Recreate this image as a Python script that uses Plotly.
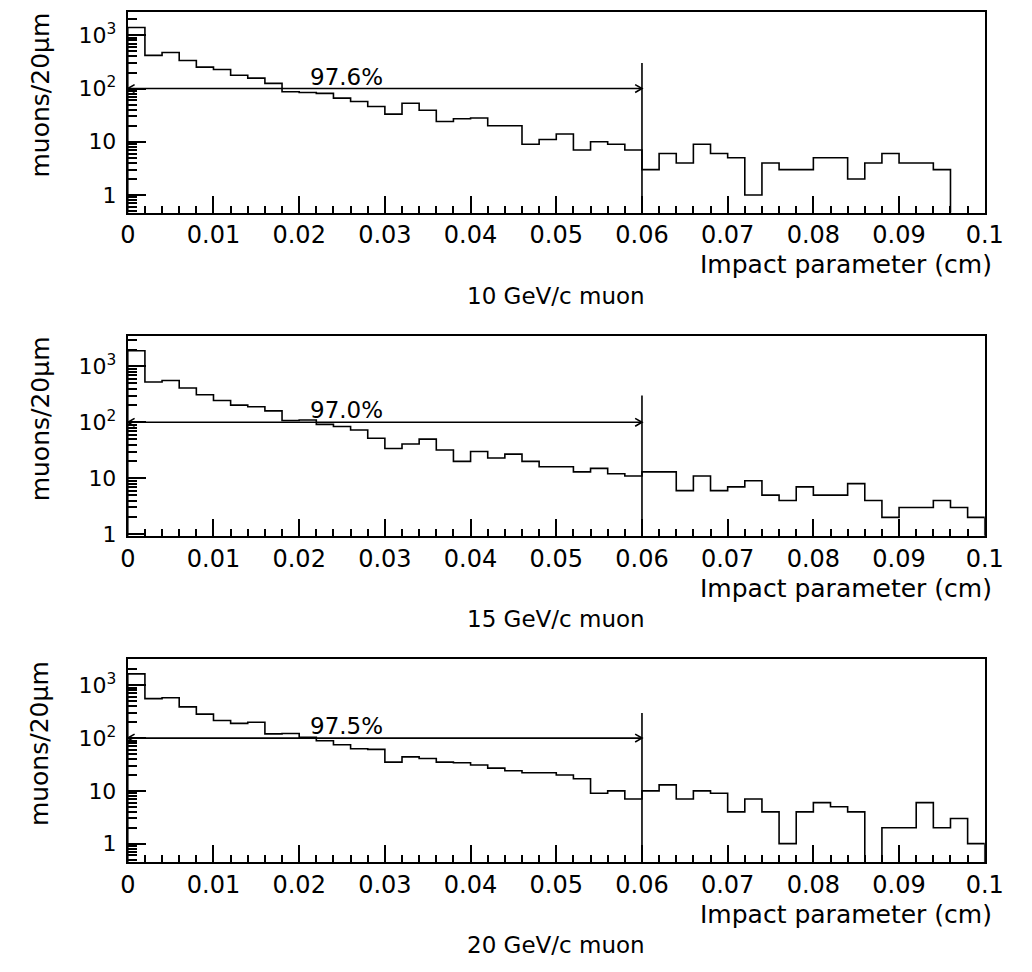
import math
import plotly.graph_objects as go

# Impact-parameter distributions, 20 um bins from 0 to 0.1 cm
bin_width = 0.002
x_max = 0.1

counts_10gev = [1400, 420, 475, 335, 252, 228, 177, 157, 125, 87,
                84, 81, 66, 57, 46, 33, 53, 39, 24, 27,
                28, 20, 20, 9, 11, 14, 7, 10, 9, 7,
                3, 6, 4, 9, 6, 5, 1, 4, 3, 3,
                5, 5, 2, 4, 6, 4, 4, 3, 0, 0]

counts_15gev = [1900, 525, 560, 410, 310, 245, 203, 190, 160, 108,
                110, 92, 84, 73, 52, 34, 41, 50, 32, 20,
                30, 23, 27, 20, 16, 16, 13, 15, 12, 11,
                13, 13, 6, 11, 6, 7, 9, 5, 4, 7,
                5, 5, 8, 4, 2, 3, 3, 4, 3, 2]

counts_20gev = [1650, 560, 580, 390, 285, 215, 190, 200, 120, 122,
                103, 89, 75, 63, 61, 35, 44, 41, 35, 34,
                31, 27, 24, 22, 22, 20, 17, 9, 10, 7,
                10, 13, 7, 10, 9, 4, 7, 4, 1, 4,
                6, 5, 4, 0, 2, 2, 6, 2, 3, 1]

panel_counts = [counts_10gev, counts_15gev, counts_20gev]
captions = ["10 GeV/c muon", "15 GeV/c muon", "20 GeV/c muon"]
efficiencies = ["97.6%", "97.0%", "97.5%"]
efficiency_label_x = 0.0255
cut_position = 0.06
arrow_level = 100
cut_marker_top = 300
y_log_ranges = [(-0.33, 3.44), (-0.03, 3.54), (-0.35, 3.49)]
y_tick_values = [1, 10, 100, 1000]
y_tick_text = ["1", "10", "10<sup>2</sup>", "10<sup>3</sup>"]
x_title = "Impact parameter (cm)"
y_title = "muons/20\u03bcm"

# page geometry (pixels)
W, H = 1032, 972
plot_left, plot_right = 123, 1003
panel_tops = [12, 340, 667]
panel_bottoms = [215, 542, 872]
FONT = "DejaVu Sans"
BLACK = "black"
floor = 1e-3  # empty bins fall below the visible log range
head_len_px, head_half_px = 7, 4  # arrowhead size

minor_vals = [m * 10 ** k for k in range(-1, 4) for m in range(2, 10)]

fig = go.Figure()
annotations = []

x_dom = [plot_left / W, plot_right / W]

for i, counts in enumerate(panel_counts):
    n = i + 1
    xa = "x" if n == 1 else f"x{n}"
    ya = "y" if n == 1 else f"y{n}"
    top, bottom = panel_tops[i], panel_bottoms[i]
    y_dom = [1 - bottom / H, 1 - top / H]
    lo, hi = y_log_ranges[i]

    edges = [round(k * bin_width, 6) for k in range(len(counts) + 1)]
    vals = [c if c > 0 else floor for c in counts]
    xs = [edges[0]] + edges + [edges[-1]]
    ys = [floor] + vals + [vals[-1], floor]

    fig.add_trace(go.Scatter(
        x=xs, y=ys, mode="lines", line=dict(shape="hv", color=BLACK, width=1.6),
        xaxis=xa, yaxis=ya, showlegend=False, hoverinfo="skip"))

    # cut position marker
    fig.add_trace(go.Scatter(
        x=[cut_position, cut_position], y=[floor, cut_marker_top], mode="lines",
        line=dict(color=BLACK, width=1.6), xaxis=xa, yaxis=ya,
        showlegend=False, hoverinfo="skip"))

    # double-headed arrow spanning the accepted region
    dx = head_len_px * x_max / (plot_right - plot_left)
    fy = 10 ** (head_half_px * (hi - lo) / (bottom - top))
    ax_x = [0, cut_position, None,
            dx, 0, dx, None,
            cut_position - dx, cut_position, cut_position - dx]
    ax_y = [arrow_level, arrow_level, None,
            arrow_level * fy, arrow_level, arrow_level / fy, None,
            arrow_level * fy, arrow_level, arrow_level / fy]
    fig.add_trace(go.Scatter(
        x=ax_x, y=ax_y, mode="lines", line=dict(color=BLACK, width=1.6),
        xaxis=xa, yaxis=ya, showlegend=False, hoverinfo="skip",
        connectgaps=False))

    axis_x = dict(
        domain=x_dom, range=[0, x_max], anchor=ya,
        showline=True, mirror=True, linecolor=BLACK, linewidth=2,
        showgrid=False, zeroline=False,
        tickmode="linear", tick0=0, dtick=0.01,
        ticks="inside", ticklen=17, tickwidth=1.5, tickcolor=BLACK,
        minor=dict(dtick=0.002, ticks="inside", ticklen=7, tickwidth=1.5,
                   tickcolor=BLACK, showgrid=False),
        tickfont=dict(family=FONT, size=24, color=BLACK),
    )
    axis_y = dict(
        domain=y_dom, type="log", range=[lo, hi], anchor=xa,
        showline=True, mirror=True, linecolor=BLACK, linewidth=2,
        showgrid=False, zeroline=False,
        tickmode="array", tickvals=y_tick_values, ticktext=y_tick_text,
        ticks="inside", ticklen=18, tickwidth=1.5, tickcolor=BLACK,
        minor=dict(tickmode="array", tickvals=minor_vals, ticks="inside",
                   ticklen=9, tickwidth=1.5, tickcolor=BLACK, showgrid=False),
        tickfont=dict(family=FONT, size=22, color=BLACK),
        ticklabelstandoff=5,
    )
    fig.layout["xaxis" if n == 1 else f"xaxis{n}"] = axis_x
    fig.layout["yaxis" if n == 1 else f"yaxis{n}"] = axis_y

    annotations.append(dict(
        x=efficiency_label_x, y=math.log10(arrow_level), xref=xa, yref=ya,
        text=efficiencies[i], showarrow=False, xanchor="center", yanchor="bottom",
        yshift=-3, font=dict(family=FONT, size=23, color=BLACK)))

    annotations.append(dict(
        x=1012 / W, y=1 - (bottom + 53) / H, xref="paper", yref="paper",
        text=x_title, showarrow=False, xanchor="right", yanchor="middle",
        font=dict(family=FONT, size=25, color=BLACK)))

    annotations.append(dict(
        x=(plot_left + plot_right) / 2 / W, y=1 - (bottom + 84) / H,
        xref="paper", yref="paper", text=captions[i], showarrow=False,
        xanchor="center", yanchor="middle",
        font=dict(family=FONT, size=23, color=BLACK)))

    annotations.append(dict(
        x=33 / W, y=1 - ((top + bottom) / 2 - 17) / H, xref="paper", yref="paper",
        text=y_title, showarrow=False, textangle=-90,
        xanchor="center", yanchor="middle",
        font=dict(family=FONT, size=25, color=BLACK)))

fig.update_layout(
    width=W, height=H, margin=dict(l=0, r=0, t=0, b=0),
    paper_bgcolor="white", plot_bgcolor="white",
    annotations=annotations, showlegend=False,
)

fig.write_html("out.html")
